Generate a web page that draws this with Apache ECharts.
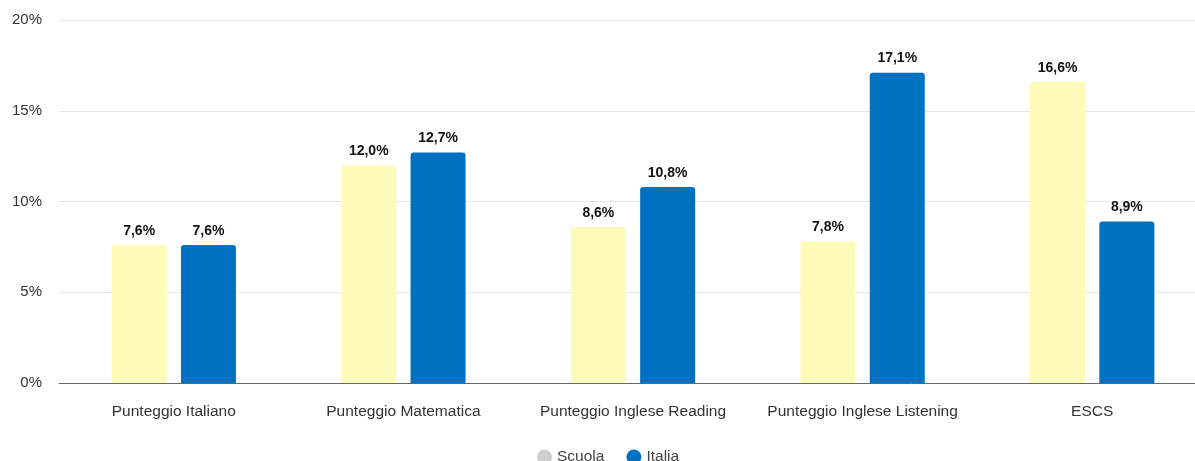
<!DOCTYPE html>
<html>
<head>
<meta charset="utf-8">
<script src="https://cdn.jsdelivr.net/npm/echarts@6/dist/echarts.min.js"></script>
<style>html,body{margin:0;padding:0;background:#fff;}#c{width:1195px;height:461px;}</style>
</head>
<body>
<div id="c"></div>
<script>
var categories = ['Punteggio Italiano', 'Punteggio Matematica', 'Punteggio Inglese Reading', 'Punteggio Inglese Listening', 'ESCS'];
var scuola = [7.6, 12.0, 8.6, 7.8, 16.6];
var italia = [7.6, 12.7, 10.8, 17.1, 8.9];
var yTicks = [0, 5, 10, 15, 20];

var chart = echarts.init(document.getElementById('c'));
var fontFam = 'Liberation Sans, Arial, sans-serif';
function lbl(p){ return p.value.toFixed(1).replace('.', ',') + '%'; }
chart.setOption({
  animation: false,
  textStyle: {fontFamily: fontFam},
  grid: {left: 59, width: 1148, top: 20, bottom: 78, containLabel: false, outerBoundsMode: 'none'},
  legend: {
    bottom: -9, left: 532,
    icon: 'circle', itemWidth: 15, itemHeight: 15, itemGap: 22,
    textStyle: {fontSize: 15.5, color: '#444', fontFamily: fontFam},
    data: [
      {name: 'Scuola', itemStyle: {color: '#d0d0d0'}},
      {name: 'Italia', itemStyle: {color: '#0070c0'}}
    ]
  },
  xAxis: {
    type: 'category', data: categories,
    axisLine: {lineStyle: {color: '#666', width: 1}},
    axisTick: {show: false},
    axisLabel: {fontSize: 15.5, color: '#333', margin: 21, interval: 0, hideOverlap: false, fontFamily: fontFam}
  },
  yAxis: {
    type: 'value', min: yTicks[0], max: yTicks[yTicks.length-1], interval: 5,
    axisLine: {show: false}, axisTick: {show: false},
    splitLine: {lineStyle: {color: '#e6e6e6'}},
    axisLabel: {fontSize: 15, color: '#333', margin: 17, formatter: '{value}%', fontFamily: fontFam}
  },
  series: [
    {
      name: 'Scuola', type: 'bar', data: scuola, barWidth: 55, barGap: '26%',
      itemStyle: {color: '#fffbb8', borderRadius: [3,3,0,0]},
      label: {show: true, position: 'top', distance: 7, formatter: lbl, fontSize: 14, fontWeight: 'bold', color: '#111', fontFamily: fontFam}
    },
    {
      name: 'Italia', type: 'bar', data: italia, barWidth: 55,
      itemStyle: {color: '#0070c0', borderRadius: [3,3,0,0]},
      label: {show: true, position: 'top', distance: 7, formatter: lbl, fontSize: 14, fontWeight: 'bold', color: '#111', fontFamily: fontFam}
    }
  ]
});
</script>
</body>
</html>
